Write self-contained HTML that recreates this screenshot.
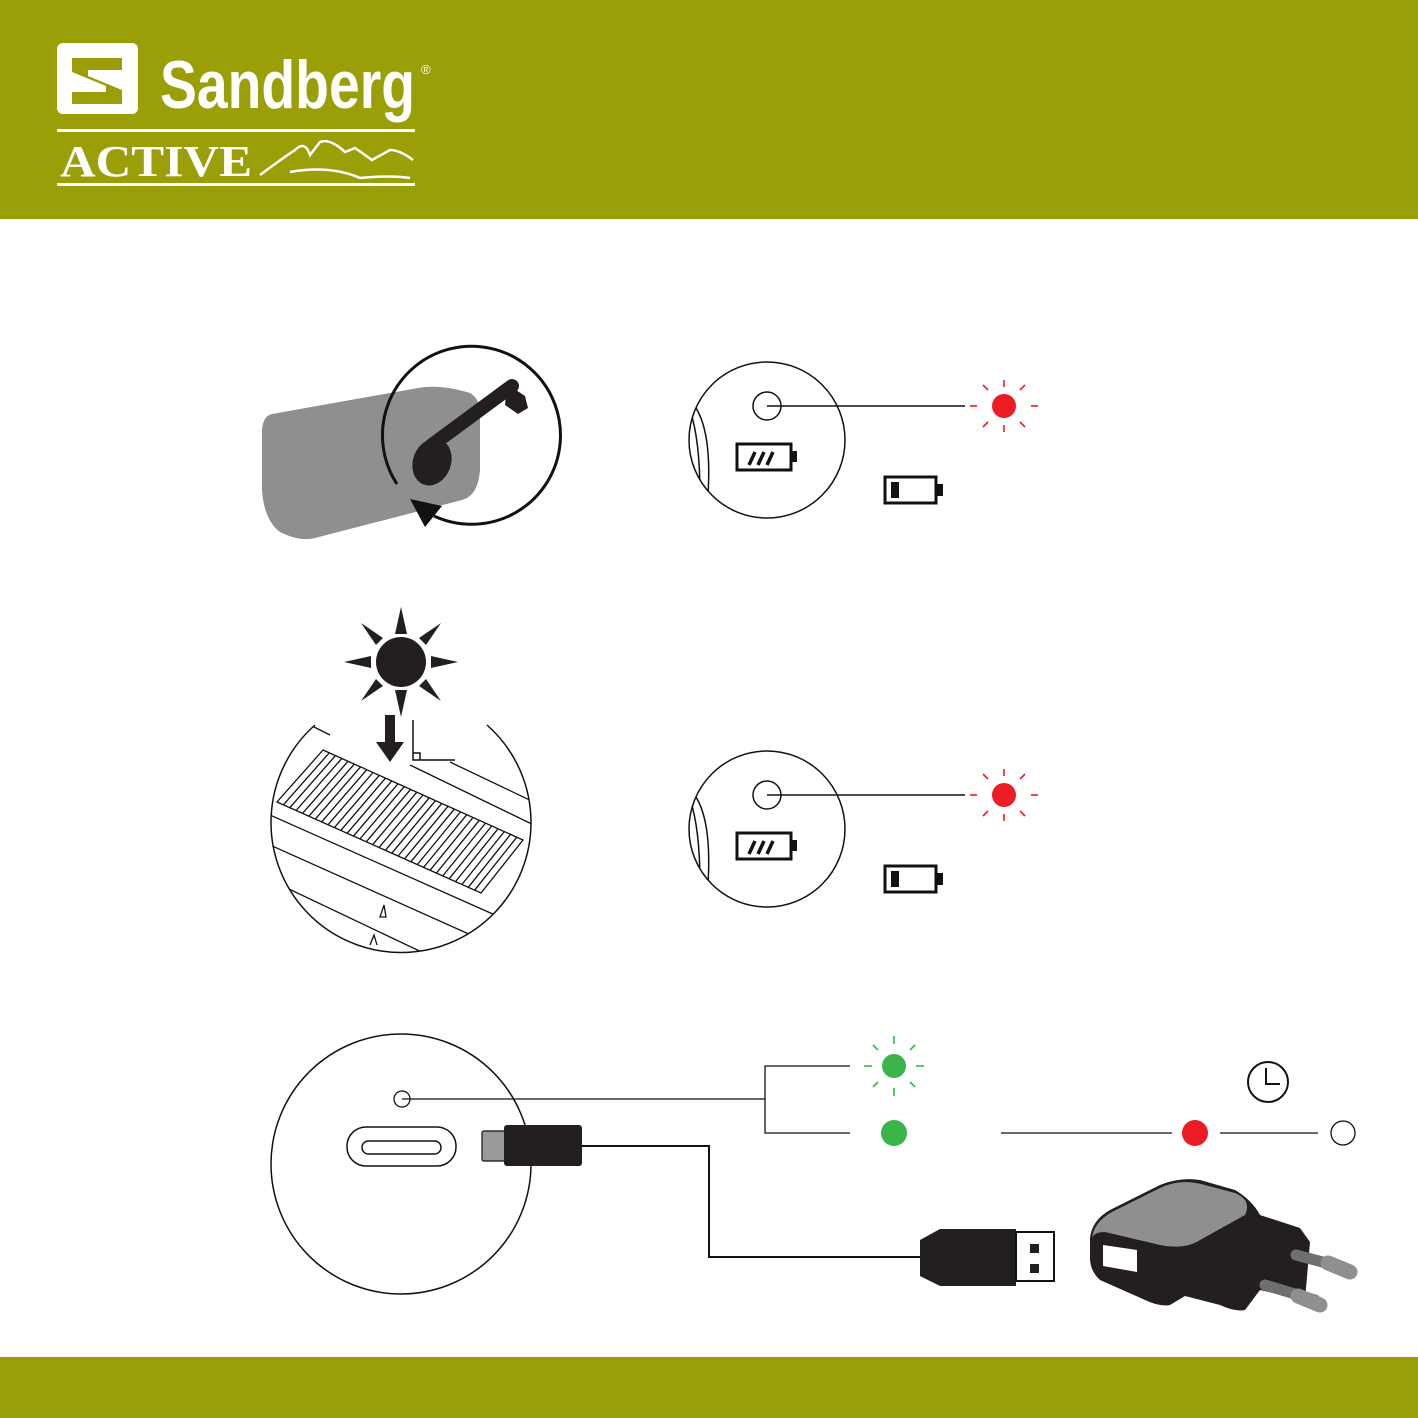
<!DOCTYPE html>
<html><head><style>
html,body{margin:0;padding:0;background:#fff}
svg{display:block}
</style></head><body>
<svg width="1418" height="1418" viewBox="0 0 1418 1418" xmlns="http://www.w3.org/2000/svg" font-family="Liberation Sans, sans-serif">
<defs>
<clipPath id="cs"><circle cx="401" cy="822" r="130"/></clipPath>
<clipPath id="cl1"><circle cx="767" cy="440" r="78"/></clipPath>
</defs>
<!-- header/footer -->
<rect x="0" y="0" width="1418" height="219" fill="#9b9f07"/>
<rect x="0" y="1357" width="1418" height="61" fill="#9b9f07"/>
<!-- logo -->
<rect x="57" y="43" width="81" height="71" rx="6" fill="#fff"/>
<path d="M72 58 H122 V70 H88 V76 L122 90 V104 H72 V92 H106 V86 L72 72 Z" fill="#9b9f07"/>
<text x="160" y="108" font-size="68" fill="#fff" font-weight="bold" textLength="255" lengthAdjust="spacingAndGlyphs" font-family="Liberation Sans Narrow, Liberation Sans, sans-serif">Sandberg</text>
<text x="421" y="74" font-size="13" fill="#fff">®</text>
<rect x="57" y="129" width="358" height="3" fill="#fff"/>
<rect x="57" y="183" width="358" height="3" fill="#fff"/>
<text x="60" y="176" font-size="44" fill="#fff" font-weight="bold" font-family="Liberation Serif, serif" textLength="192" lengthAdjust="spacingAndGlyphs">ACTIVE</text>
<path d="M260 175 Q280 160 295 150 Q305 140 310 155 L320 142 Q330 138 345 152 L355 148 Q365 155 372 160 L390 150 Q400 150 413 160 M290 172 Q330 165 360 178 Q390 175 410 178" fill="none" stroke="#fff" stroke-width="2.5"/>

<!-- crank device -->
<path d="M272 414 L418 388 Q440 384 470 393 Q482 400 480 420 L480 470 Q478 496 462 500 L315 538 Q300 542 280 532 Q264 520 262 490 L262 430 Q263 416 272 414 Z" fill="#8f8f8f"/>
<path d="M397 484 A89 89 0 1 1 434 516" fill="none" stroke="#111" stroke-width="3"/>
<polygon points="410,499 442,506 425,527" fill="#111"/>
<path d="M432 445 L512 386" stroke="#231f20" stroke-width="14" stroke-linecap="round"/>
<ellipse cx="432" cy="462" rx="19" ry="24" transform="rotate(20 432 462)" fill="#231f20"/>
<path d="M507 384 L525 396 L528 408 L518 414 L505 405 Z" fill="#231f20"/>

<!-- LED block 1 -->
<g id="led1">
<circle cx="767" cy="440" r="78" fill="#fff" stroke="#111" stroke-width="1.5"/>
<g clip-path="url(#cl1)"><path d="M694 405 Q712 430 708 495 M690 410 Q700 440 700 495" fill="none" stroke="#111" stroke-width="1.5"/></g>
<circle cx="767" cy="406" r="14" fill="#fff" stroke="#111" stroke-width="1.5"/>
<line x1="767" y1="406" x2="965" y2="406" stroke="#111" stroke-width="1.5"/>
<rect x="737" y="444" width="54" height="26" fill="none" stroke="#111" stroke-width="3"/>
<rect x="791" y="451" width="6" height="11" fill="#111"/>
<path d="M749 465 L755 452 M758 465 L764 452 M767 465 L773 452" stroke="#111" stroke-width="3.5"/>
<rect x="885" y="477" width="51" height="26" fill="none" stroke="#111" stroke-width="3"/>
<rect x="936" y="484" width="7" height="12" fill="#111"/>
<rect x="891" y="482" width="8" height="16" fill="#111"/>
<circle cx="1004" cy="406" r="12" fill="#ec1c24"/>
<g stroke="#ec1c24" stroke-width="1.6">
<line x1="1004" y1="380" x2="1004" y2="387"/><line x1="1004" y1="425" x2="1004" y2="432"/>
<line x1="970" y1="406" x2="977" y2="406"/><line x1="1031" y1="406" x2="1038" y2="406"/>
<line x1="983" y1="385" x2="988" y2="390"/><line x1="1020" y1="422" x2="1025" y2="427"/>
<line x1="1025" y1="385" x2="1020" y2="390"/><line x1="988" y1="422" x2="983" y2="427"/>
</g>
</g>
<use href="#led1" transform="translate(0 389)"/>

<!-- sun -->
<circle cx="401" cy="662" r="25" fill="#231f20"/>
<g fill="#231f20">
<polygon points="401,607 395,634 407,634"/><polygon points="401,717 395,690 407,690"/>
<polygon points="344,662 371,656 371,668"/><polygon points="458,662 431,656 431,668"/>
<polygon points="361,623 383,638 376,645"/><polygon points="441,623 419,638 426,645"/>
<polygon points="361,701 383,686 376,679"/><polygon points="441,701 419,686 426,679"/>
</g>
<!-- solar -->
<path d="M315 725 A130 130 0 1 0 487 725" fill="none" stroke="#111" stroke-width="1.5"/>
<g clip-path="url(#cs)" fill="none" stroke="#111" stroke-width="1.3">
<polygon points="323,750 523,840 481,893 277,802"/>
<path d="M283.4,804.8 L329.3,752.8 M289.8,807.7 L335.5,755.6 M296.1,810.5 L341.8,758.4 M302.5,813.4 L348,761.3 M308.9,816.2 L354.3,764.1 M315.3,819.1 L360.5,766.9 M321.6,821.9 L366.8,769.7 M328,824.8 L373,772.5 M334.4,827.6 L379.3,775.3 M340.8,830.4 L385.5,778.1 M347.1,833.3 L391.8,780.9 M353.5,836.1 L398,783.8 M359.9,839 L404.3,786.6 M366.3,841.8 L410.5,789.4 M372.6,844.7 L416.8,792.2 M379,847.5 L423,795 M385.4,850.3 L429.3,797.8 M391.8,853.2 L435.5,800.6 M398.1,856 L441.8,803.4 M404.5,858.9 L448,806.3 M410.9,861.7 L454.3,809.1 M417.3,864.6 L460.5,811.9 M423.6,867.4 L466.8,814.7 M430,870.3 L473,817.5 M436.4,873.1 L479.3,820.3 M442.8,875.9 L485.5,823.1 M449.1,878.8 L491.8,825.9 M455.5,881.6 L498,828.8 M461.9,884.5 L504.3,831.6 M468.3,887.3 L510.5,834.4 M474.6,890.2 L516.8,837.2"/>
<path d="M270 815 L495 915 M270 845 L500 948 M270 880 L470 975 M300 920 L420 975 M310 725 L330 735 M410 765 L540 828 M450 762 L540 805"/>
<path d="M380 917 L384 905 L386 917 Z M370 945 L374 935 L377 945"/>
</g>
<rect x="385" y="715" width="10" height="30" fill="#231f20"/>
<polygon points="376,742 404,742 390,762" fill="#231f20"/>
<path d="M413 720 V760 H455 M413 753 H420 V760" fill="none" stroke="#111" stroke-width="1.5"/>

<!-- charging -->
<circle cx="401" cy="1164" r="130" fill="#fff" stroke="#111" stroke-width="1.5"/>
<circle cx="402" cy="1099" r="8" fill="#fff" stroke="#111" stroke-width="1.3"/>
<line x1="402" y1="1099" x2="765" y2="1099" stroke="#111" stroke-width="1.3"/>
<path d="M850 1066 H765 V1133 H850" fill="none" stroke="#111" stroke-width="1.3"/>
<rect x="347" y="1127" width="109" height="39" rx="19" fill="#fff" stroke="#111" stroke-width="1.5"/>
<rect x="362" y="1141" width="79" height="13" rx="6.5" fill="#fff" stroke="#111" stroke-width="1.5"/>
<rect x="482" y="1131" width="26" height="30" rx="2" fill="#9a9a9a" stroke="#111" stroke-width="1.2"/>
<rect x="504" y="1125" width="78" height="41" rx="3" fill="#231f20"/>
<path d="M582 1146 H709 V1257 H920" fill="none" stroke="#111" stroke-width="2"/>
<path d="M920 1240 L940 1229 H1016 V1286 H940 L920 1276 Z" fill="#231f20"/>
<rect x="1016" y="1232" width="38" height="49" fill="#fff" stroke="#111" stroke-width="2"/>
<rect x="1030" y="1244" width="9" height="9" fill="#231f20"/><rect x="1030" y="1264" width="9" height="9" fill="#231f20"/>
<!-- LEDs row -->
<circle cx="894" cy="1066" r="12" fill="#3ab54a"/>
<g stroke="#3ab54a" stroke-width="1.6">
<line x1="894" y1="1036" x2="894" y2="1044"/><line x1="894" y1="1088" x2="894" y2="1096"/>
<line x1="864" y1="1066" x2="872" y2="1066"/><line x1="916" y1="1066" x2="924" y2="1066"/>
<line x1="873" y1="1045" x2="878" y2="1050"/><line x1="910" y1="1082" x2="915" y2="1087"/>
<line x1="915" y1="1045" x2="910" y2="1050"/><line x1="878" y1="1082" x2="873" y2="1087"/>
</g>
<circle cx="894" cy="1133" r="13" fill="#3ab54a"/>
<line x1="1001" y1="1133" x2="1172" y2="1133" stroke="#111" stroke-width="1.3"/>
<circle cx="1195" cy="1133" r="13" fill="#ec1c24"/>
<line x1="1220" y1="1133" x2="1318" y2="1133" stroke="#111" stroke-width="1.3"/>
<circle cx="1343" cy="1133" r="12" fill="#fff" stroke="#111" stroke-width="1.3"/>
<circle cx="1268" cy="1082" r="20" fill="#fff" stroke="#111" stroke-width="2"/>
<path d="M1266 1068 V1084 H1280" fill="none" stroke="#111" stroke-width="2"/>
<!-- adapter -->
<path d="M1090 1238 Q1092 1220 1110 1210 L1160 1185 Q1180 1177 1200 1180 L1235 1190 Q1252 1200 1260 1215 L1300 1228 L1310 1242 L1305 1300 L1260 1290 L1245 1310 Q1235 1312 1220 1305 L1185 1296 L1170 1305 Q1160 1307 1145 1300 L1100 1280 Q1089 1270 1090 1255 Z" fill="#231f20"/>
<path d="M1092 1238 Q1094 1222 1112 1212 L1160 1188 Q1180 1178 1205 1185 L1235 1193 Q1252 1200 1245 1215 L1200 1240 Q1185 1250 1160 1245 L1105 1232 Q1094 1232 1092 1238 Z" fill="#8f8f8f"/>
<polygon points="1103,1245 1137,1250 1137,1272 1103,1266" fill="#fff"/>
<path d="M1296 1255 L1345 1268" stroke="#6f6f6f" stroke-width="11" stroke-linecap="round"/>
<path d="M1328 1263 L1350 1272" stroke="#8f8f8f" stroke-width="15" stroke-linecap="round"/>
<path d="M1265 1285 L1315 1300" stroke="#6f6f6f" stroke-width="11" stroke-linecap="round"/>
<path d="M1298 1296 L1320 1305" stroke="#8f8f8f" stroke-width="15" stroke-linecap="round"/>
</svg>
</body></html>
